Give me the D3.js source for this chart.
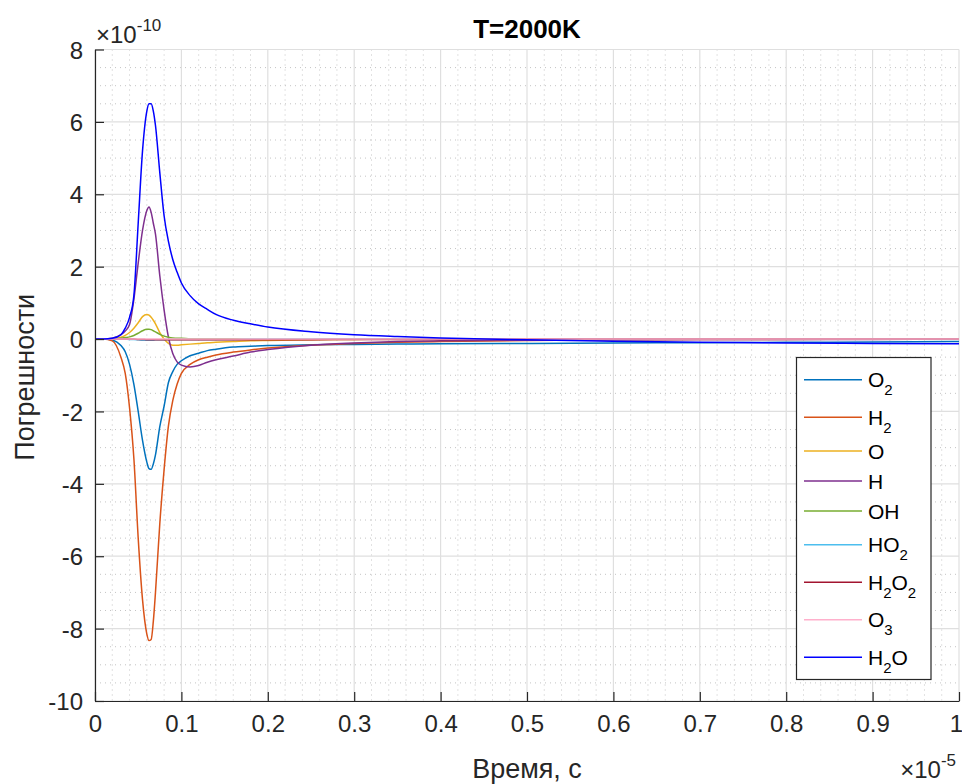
<!DOCTYPE html>
<html>
<head>
<meta charset="utf-8">
<script src="https://cdn.jsdelivr.net/npm/d3@7"></script>
<style>
  html, body { margin: 0; padding: 0; background: #fff; }
  svg { display: block; font-family: "Liberation Sans", Arial, Helvetica, sans-serif; }
</style>
</head>
<body>
<svg id="chart" width="962" height="784"></svg>
<script>
// ---- data (time in units of 1e-5 s, errors in units of 1e-10) ----
const time = [0, 0.01, 0.02, 0.03, 0.035, 0.04, 0.045, 0.05, 0.055, 0.06, 0.0625, 0.065, 0.0675, 0.07, 0.075, 0.08, 0.085, 0.09, 0.095, 0.1, 0.11, 0.12, 0.13, 0.14, 0.16, 0.18, 0.2, 0.25, 0.3, 0.35, 0.4, 0.5, 0.6, 0.7, 0.8, 0.9, 1.0];

const O2   = [0, 0, -0.03, -0.18, -0.35, -0.7, -1.25, -2.0, -2.8, -3.4, -3.58, -3.6, -3.45, -3.2, -2.42, -1.85, -1.2, -0.9, -0.7, -0.6, -0.46, -0.39, -0.32, -0.28, -0.22, -0.2, -0.18, -0.16, -0.15, -0.14, -0.13, -0.12, -0.11, -0.1, -0.09, -0.08, -0.07];
const H2   = [0, 0, -0.05, -0.5, -0.95, -1.9, -3.3, -5.5, -7.2, -8.15, -8.33, -8.3, -7.8, -7.0, -5.1, -3.6, -2.4, -1.7, -1.25, -0.95, -0.7, -0.57, -0.5, -0.44, -0.36, -0.3, -0.25, -0.17, -0.12, -0.09, -0.07, -0.04, -0.02, -0.01, -0.01, 0, 0];
const O    = [0, 0, 0.01, 0.05, 0.1, 0.18, 0.3, 0.45, 0.62, 0.68, 0.66, 0.6, 0.52, 0.42, 0.18, 0.0, -0.12, -0.17, -0.17, -0.16, -0.14, -0.12, -0.1, -0.09, -0.07, -0.05, -0.04, -0.02, -0.01, 0, 0, 0, 0, 0, 0, 0, 0];
const H    = [0, 0, 0.02, 0.12, 0.22, 0.4, 1.1, 2.1, 3.0, 3.55, 3.65, 3.5, 3.2, 2.9, 1.75, 0.8, 0.05, -0.4, -0.63, -0.72, -0.77, -0.73, -0.64, -0.57, -0.47, -0.36, -0.29, -0.17, -0.11, -0.07, -0.05, -0.03, -0.02, -0.01, -0.01, -0.01, 0];
const OH   = [0, 0, 0, 0.02, 0.04, 0.06, 0.1, 0.16, 0.23, 0.27, 0.27, 0.26, 0.23, 0.2, 0.13, 0.08, 0.05, 0.03, 0.02, 0.02, 0.01, 0.01, 0.01, 0.01, 0.01, 0, 0, 0, 0, 0, 0, 0, 0, 0, 0, 0, 0];
const HO2  = [0, 0, 0, 0, 0, -0.01, -0.01, -0.02, -0.03, -0.03, -0.03, -0.03, -0.03, -0.02, -0.02, -0.02, -0.01, -0.01, -0.01, -0.01, -0.01, -0.01, -0.01, -0.01, -0.01, 0, 0, 0, 0, 0, 0, 0, 0, 0, 0, 0, 0];
const H2O2 = [0, 0, 0, 0, 0, 0, 0, -0.01, -0.01, -0.02, -0.02, -0.02, -0.02, -0.02, -0.02, -0.02, -0.02, -0.02, -0.02, -0.02, -0.02, -0.02, -0.02, -0.02, -0.02, -0.02, -0.02, -0.02, -0.01, -0.01, -0.01, 0, 0, 0, 0, 0, 0];
const O3   = [0, 0, 0, 0, 0, 0, 0, 0, 0, 0, 0, 0, 0, 0, 0, 0, 0, 0, 0, 0, 0, 0, 0, 0, 0, 0, 0, 0, 0, 0, 0, 0, 0, 0, 0, 0, 0];
const H2O  = [0, 0, 0.02, 0.12, 0.3, 0.6, 1.2, 3.2, 5.2, 6.3, 6.5, 6.5, 6.3, 5.9, 4.6, 3.4, 2.7, 2.2, 1.85, 1.55, 1.2, 0.97, 0.82, 0.68, 0.52, 0.42, 0.33, 0.2, 0.12, 0.07, 0.03, -0.02, -0.06, -0.09, -0.11, -0.12, -0.13];

const seriesNames  = ["O2", "H2", "O", "H", "OH", "HO2", "H2O2", "O3", "H2O"];
const seriesValues = [O2, H2, O, H, OH, HO2, H2O2, O3, H2O];
const seriesColors = ["#0072BD", "#D95319", "#EDB120", "#7E2F8E", "#77AC30", "#4DBEEE", "#A2142F", "#FFB0CC", "#0000FF"];

const xTicks = [0, 0.1, 0.2, 0.3, 0.4, 0.5, 0.6, 0.7, 0.8, 0.9, 1];
const xTickLabels = ["0", "0.1", "0.2", "0.3", "0.4", "0.5", "0.6", "0.7", "0.8", "0.9", "1"];
const yTicks = [-10, -8, -6, -4, -2, 0, 2, 4, 6, 8];
const yTickLabels = ["-10", "-8", "-6", "-4", "-2", "0", "2", "4", "6", "8"];

const titleText = "T=2000K";
const xLabelText = "Время, с";
const yLabelText = "Погрешности";
const xExponent = "-5";
const yExponent = "-10";

// ---- layout ----
const svg = d3.select("#chart");
const L = 95, R = 959, T = 49.5, B = 701;
const x = d3.scaleLinear().domain([0, 1]).range([L, R]);
const y = d3.scaleLinear().domain([-10, 8]).range([B, T]);

const axisColor = "#262626";

// minor grid (dotted)
const xMinor = d3.range(0, 1.0001, 0.02).filter(v => Math.abs(v * 10 - Math.round(v * 10)) > 1e-6);
const yMinor = d3.range(-10, 8.0001, 0.5).filter(v => Math.abs(v / 2 - Math.round(v / 2)) > 1e-6);
const grid = svg.append("g");
grid.selectAll(".xm").data(xMinor).join("line")
  .attr("x1", d => x(d)).attr("x2", d => x(d)).attr("y1", T).attr("y2", B)
  .attr("stroke", "#c4c4c4").attr("stroke-width", 1).attr("stroke-dasharray", "1,4");
grid.selectAll(".ym").data(yMinor).join("line")
  .attr("x1", L).attr("x2", R).attr("y1", d => y(d)).attr("y2", d => y(d))
  .attr("stroke", "#c4c4c4").attr("stroke-width", 1).attr("stroke-dasharray", "1,4");
// major grid
grid.selectAll(".xg").data(xTicks).join("line")
  .attr("x1", d => x(d)).attr("x2", d => x(d)).attr("y1", T).attr("y2", B)
  .attr("stroke", "#dfdfdf").attr("stroke-width", 1.2);
grid.selectAll(".yg").data(yTicks).join("line")
  .attr("x1", L).attr("x2", R).attr("y1", d => y(d)).attr("y2", d => y(d))
  .attr("stroke", "#dfdfdf").attr("stroke-width", 1.2);

// clip
svg.append("clipPath").attr("id", "clip").append("rect")
  .attr("x", L).attr("y", T).attr("width", R - L).attr("height", B - T);

// lines
const line = d3.line().x((d, i) => x(time[i])).y(d => y(d)).curve(d3.curveMonotoneX);
svg.append("g").attr("clip-path", "url(#clip)")
  .selectAll("path").data(seriesValues).join("path")
  .attr("d", d => line(d))
  .attr("fill", "none")
  .attr("stroke", (d, i) => seriesColors[i])
  .attr("stroke-width", 1.5)
  .attr("stroke-linejoin", "round");

// axes
const tickFont = 24;
const xAxis = d3.axisBottom(x).tickValues(xTicks).tickFormat((d, i) => xTickLabels[i])
  .tickSizeInner(-9).tickSizeOuter(0).tickPadding(14);
const gx = svg.append("g").attr("transform", `translate(0,${B})`).call(xAxis);
const yAxis = d3.axisLeft(y).tickValues(yTicks).tickFormat((d, i) => yTickLabels[i])
  .tickSizeInner(-9).tickSizeOuter(0).tickPadding(12);
const gy = svg.append("g").attr("transform", `translate(${L},0)`).call(yAxis);
[gx, gy].forEach(g => {
  g.select(".domain").attr("stroke", axisColor).attr("stroke-width", 1.2);
  g.selectAll(".tick line").attr("stroke", axisColor).attr("stroke-width", 1.2);
  g.selectAll(".tick text").attr("fill", axisColor).attr("font-size", tickFont)
    .attr("font-family", "Liberation Sans, Arial, sans-serif");
});
gy.selectAll(".tick text").attr("dy", "0.36em");
gx.selectAll(".tick text").attr("dy", "0.72em");
// keep the last x label inside the window
gx.selectAll(".tick text").filter((d, i, n) => i === n.length - 1).attr("dx", -3);

// exponents
const yExp = svg.append("text").attr("x", L + 1).attr("y", 43).attr("fill", axisColor)
  .attr("font-size", tickFont);
yExp.append("tspan").text("\u00D710");
yExp.append("tspan").attr("font-size", 17).attr("dy", -12).text(yExponent);

const xExp = svg.append("text").attr("x", 956).attr("y", 778).attr("fill", axisColor)
  .attr("font-size", tickFont).attr("text-anchor", "end");
xExp.append("tspan").text("\u00D710");
xExp.append("tspan").attr("font-size", 17).attr("dy", -12).text(xExponent);

// title and labels
svg.append("text").attr("x", (L + R) / 2).attr("y", 38).attr("text-anchor", "middle")
  .attr("font-size", 26).attr("font-weight", "bold").attr("fill", "#000").text(titleText);
svg.append("text").attr("x", (L + R) / 2).attr("y", 778).attr("text-anchor", "middle")
  .attr("font-size", 27).attr("fill", axisColor).text(xLabelText);
svg.append("text").attr("transform", `translate(34,${(T + B) / 2 + 2}) rotate(-90)`)
  .attr("text-anchor", "middle").attr("font-size", 27).attr("fill", axisColor).text(yLabelText);

// legend
const legX = 796.5, legY = 357.5, legW = 134.5;
const hasSub = s => /\d/.test(s);
const halfH = seriesNames.map(s => hasSub(s) ? 18.75 : 15);
const legPad = 3.5;
let acc = legY + legPad;
const rowY = halfH.map(h => { const c = acc + h; acc += 2 * h; return c; });
const legH = acc + legPad - legY;
const leg = svg.append("g");
leg.append("rect").attr("x", legX).attr("y", legY).attr("width", legW).attr("height", legH)
  .attr("fill", "#fff").attr("stroke", axisColor).attr("stroke-width", 1.2);
seriesNames.forEach((name, i) => {
  leg.append("line").attr("x1", 804).attr("x2", 862).attr("y1", rowY[i]).attr("y2", rowY[i])
    .attr("stroke", seriesColors[i]).attr("stroke-width", 1.5);
  const t = leg.append("text").attr("x", 868).attr("y", rowY[i] + 7.5).attr("font-size", 21).attr("fill", "#000");
  const parts = name.match(/[A-Za-z]+|\d+/g);
  let down = false;
  parts.forEach(p => {
    if (/\d/.test(p)) {
      t.append("tspan").attr("font-size", 15).attr("dy", 8).text(p);
      down = true;
    } else {
      t.append("tspan").attr("dy", down ? -8 : 0).text(p);
      down = false;
    }
  });
});
</script>
</body>
</html>
